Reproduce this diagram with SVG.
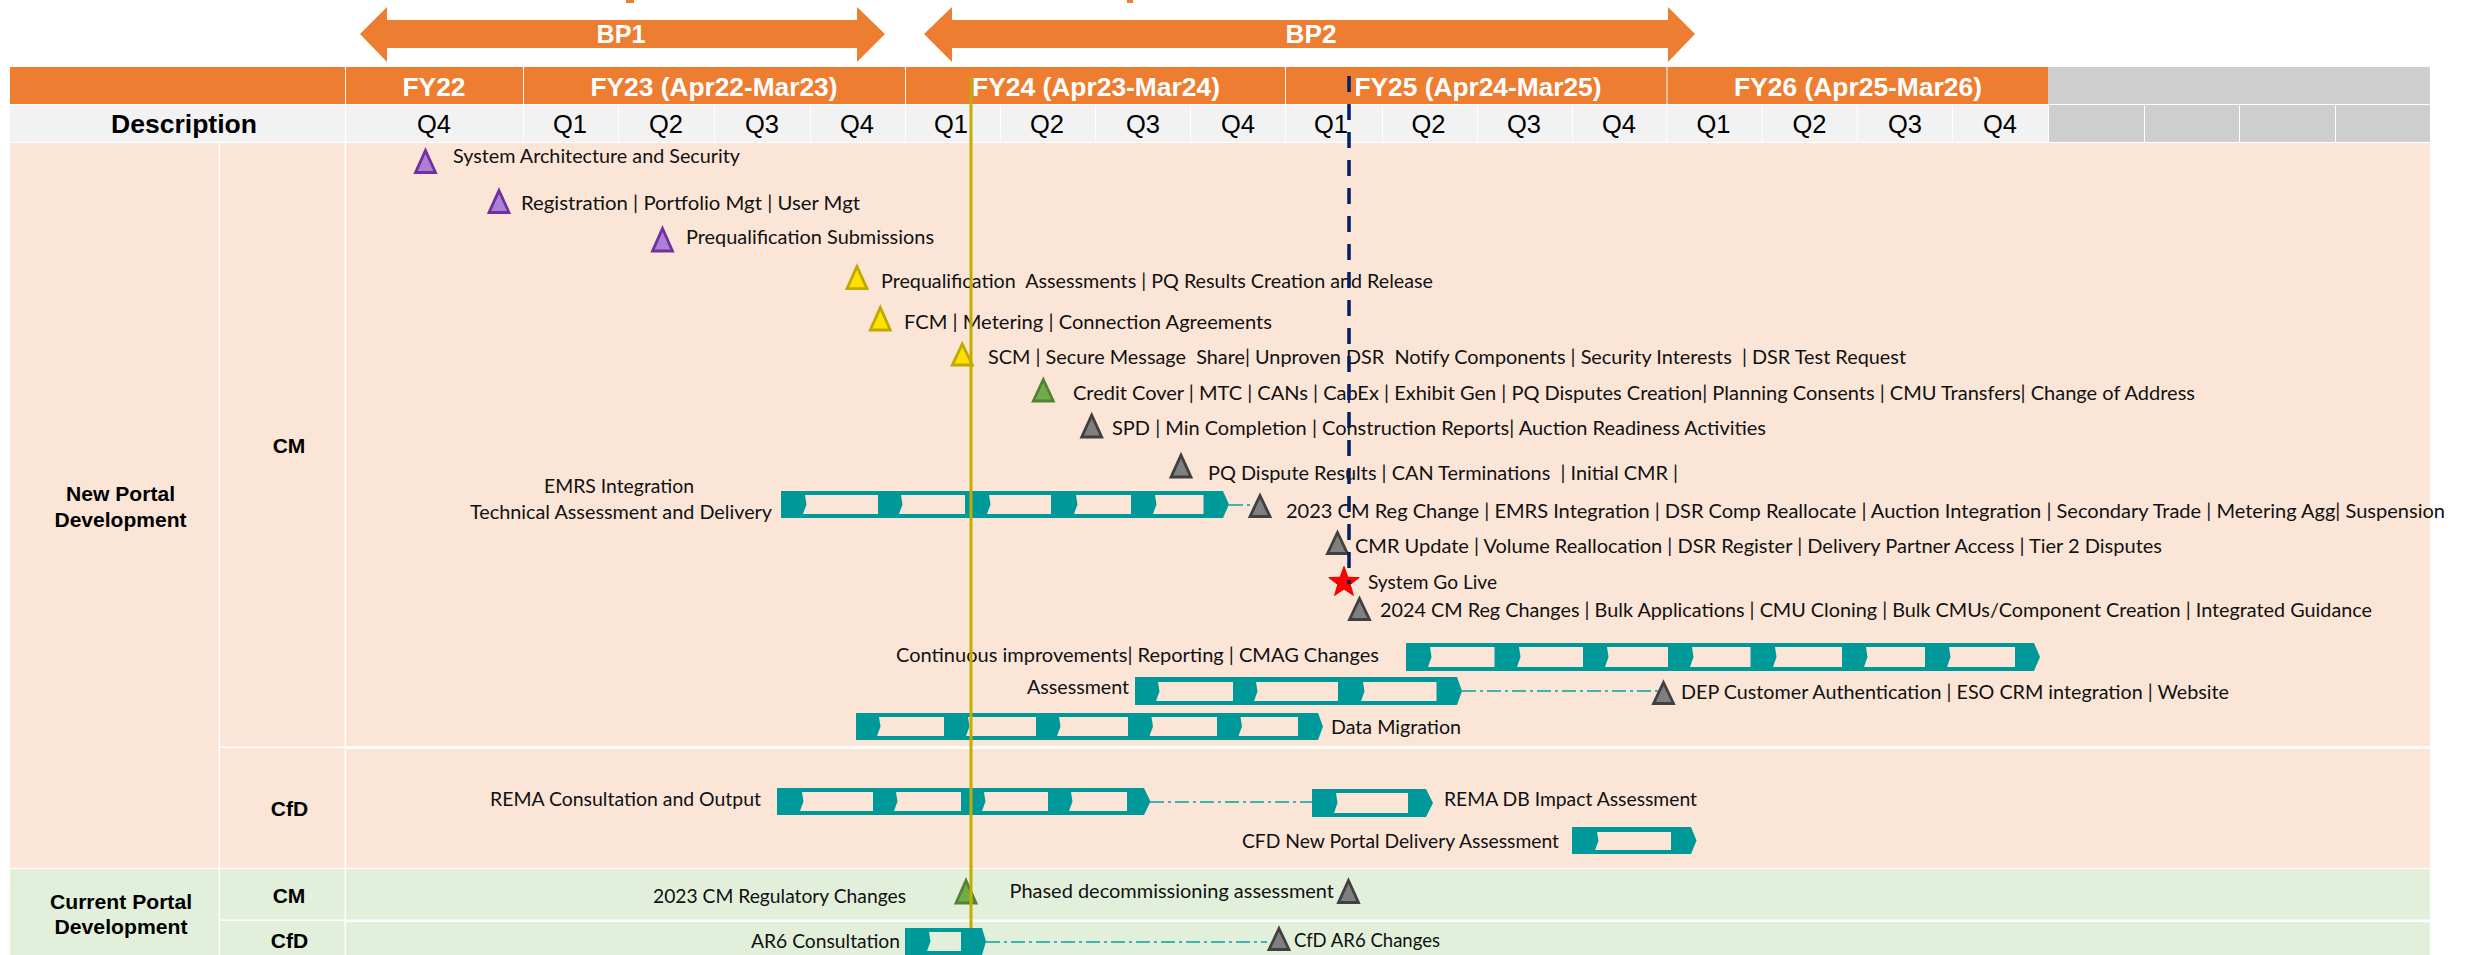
<svg xmlns="http://www.w3.org/2000/svg" width="2466" height="955" viewBox="0 0 2466 955">
<style>
text{white-space:pre}
.h{font:bold 26px "Liberation Sans",Arial,sans-serif;fill:#fff;text-anchor:middle}
.bp{font:bold 25px "Liberation Sans",Arial,sans-serif;fill:#fff;text-anchor:middle}
.q{font:25.500px "Liberation Sans",Arial,sans-serif;fill:#000;text-anchor:middle}
.b{font:bold 21px "Liberation Sans",Arial,sans-serif;fill:#000;text-anchor:middle}
.l{font:19.500px Lato,"Liberation Sans",sans-serif;fill:#111}
.or{fill:#ED7D31}.hd{fill:#F2F2F2}.gy{fill:#CFCECE}.pe{fill:#FBE5D7}.gr{fill:#E2EFDA}
.bar{fill:#009999}.ip{fill:#FBE5D7}.ig{fill:#E2EFDA}
.t{stroke-width:2.800;stroke-linejoin:miter}
.pu{fill:#AE7FD6;stroke:#7030A0}.ye{fill:#FFE100;stroke:#BFA900}.ge{fill:#70AD47;stroke:#548235}.gk{fill:#7F7F7F;stroke:#404040}
.c{stroke:#3CB5AE;stroke-width:2;stroke-dasharray:14 4 3 4;fill:none}
</style>
<rect width="2466" height="955" fill="#fff"/>
<g id="header">
<rect class="or" x="626" y="0" width="8" height="3"/><rect class="or" x="1127" y="0" width="6" height="3"/>
<rect class="or" x="10" y="67" width="335" height="37"/>
<rect class="or" x="346" y="67" width="177" height="37"/>
<rect class="or" x="524" y="67" width="381" height="37"/>
<rect class="or" x="906" y="67" width="379" height="37"/>
<rect class="or" x="1286" y="67" width="380.500" height="37"/>
<rect class="or" x="1667.500" y="67" width="380.500" height="37"/>
<rect class="gy" x="2048" y="67" width="382" height="37"/>
<rect class="hd" x="10" y="105" width="335" height="37"/>
<rect class="hd" x="346" y="105" width="177" height="37"/>
<path class="hd" d="M524 105h94v37h-94zM619 105h95v37h-95zM715 105h95v37h-95zM811 105h94v37h-94zM906 105h94v37h-94zM1001 105h94v37h-94zM1096 105h94v37h-94zM1191 105h94v37h-94zM1286 105h96v37h-96zM1383 105h94v37h-94zM1478 105h94v37h-94zM1573 105h93.500v37h-93.500zM1667.500 105h94v37h-94zM1762.500 105h94v37h-94zM1857.500 105h94.500v37h-94.500zM1953 105h95v37h-95z"/>
<path class="gy" d="M2049 105h95v37h-95zM2145 105h94v37h-94zM2240 105h95v37h-95zM2336 105h94v37h-94z"/>
<text class="h" x="434" y="96" textLength="63" lengthAdjust="spacingAndGlyphs">FY22</text>
<text class="h" x="714" y="96" textLength="247" lengthAdjust="spacingAndGlyphs">FY23 (Apr22-Mar23)</text>
<text class="h" x="1096" y="96" textLength="248" lengthAdjust="spacingAndGlyphs">FY24 (Apr23-Mar24)</text>
<text class="h" x="1478" y="96" textLength="247" lengthAdjust="spacingAndGlyphs">FY25 (Apr24-Mar25)</text>
<text class="h" x="1858" y="96" textLength="248" lengthAdjust="spacingAndGlyphs">FY26 (Apr25-Mar26)</text>
<text x="184" y="133" font-family="Liberation Sans, Arial, sans-serif" font-weight="bold" font-size="26" text-anchor="middle" textLength="146" lengthAdjust="spacingAndGlyphs">Description</text>
<g class="q">
<text x="434" y="133">Q4</text><text x="570" y="133">Q1</text><text x="666" y="133">Q2</text><text x="762" y="133">Q3</text><text x="857" y="133">Q4</text>
<text x="951" y="133">Q1</text><text x="1047" y="133">Q2</text><text x="1143" y="133">Q3</text><text x="1238" y="133">Q4</text>
<text x="1331" y="133">Q1</text><text x="1428.500" y="133">Q2</text><text x="1524" y="133">Q3</text><text x="1619" y="133">Q4</text>
<text x="1713.500" y="133">Q1</text><text x="1809.500" y="133">Q2</text><text x="1905" y="133">Q3</text><text x="2000" y="133">Q4</text>
</g>
</g>
<g id="bp1"><polygon class="or" points="360,34 387,7 387,20 857,20 857,7 885,34 857,62 857,48 387,48 387,62"/><text class="bp" x="621" y="43" textLength="49" lengthAdjust="spacingAndGlyphs">BP1</text></g>
<g id="bp2"><polygon class="or" points="924,34 952,7 952,20 1668,20 1668,7 1695,34 1668,62 1668,48 952,48 952,62"/><text class="bp" x="1311" y="43" textLength="51" lengthAdjust="spacingAndGlyphs">BP2</text></g>
<g id="body">
<rect class="pe" x="10" y="143" width="208.500" height="725"/>
<rect class="pe" x="220" y="143" width="124.500" height="603.500"/>
<rect class="pe" x="220" y="748" width="124.500" height="120"/>
<rect class="pe" x="346" y="143" width="2084" height="603"/>
<rect class="pe" x="346" y="749" width="2084" height="119"/>
<rect class="gr" x="10" y="869" width="208.500" height="86"/>
<rect class="gr" x="220" y="869" width="124.500" height="50.500"/>
<rect class="gr" x="220" y="921" width="124.500" height="34"/>
<rect class="gr" x="346" y="869" width="2084" height="50.500"/>
<rect class="gr" x="346" y="922" width="2084" height="33"/>
<text class="b" x="120.500" y="500.500" textLength="109" lengthAdjust="spacingAndGlyphs">New Portal</text>
<text class="b" x="120.500" y="526.500" textLength="132" lengthAdjust="spacingAndGlyphs">Development</text>
<text class="b" x="121" y="909" textLength="142" lengthAdjust="spacingAndGlyphs">Current Portal</text>
<text class="b" x="121" y="934" textLength="133" lengthAdjust="spacingAndGlyphs">Development</text>
<text class="b" x="289" y="453">CM</text><text class="b" x="289.500" y="816">CfD</text>
<text class="b" x="289" y="903">CM</text><text class="b" x="289.500" y="948">CfD</text>
</g>
<g id="connectors">
<path class="c" d="M1229 505H1250"/>
<path class="c" d="M1462 691H1660"/>
<path class="c" d="M1150 802H1312"/>
<path class="c" d="M986 942H1267"/>
</g>
<g id="bar-emrs"><path class="bar" d="M781 491H1223L1229 504.500 1223 518H781Z"/>
<path class="ip" d="M805 495H878V514H803L806.500 504.500ZM901 495H965V514H899L902.500 504.500ZM989 495H1051V514H987L990.500 504.500ZM1076 495H1131V514H1074L1077.500 504.500ZM1155 495H1203.500V514H1153L1156.500 504.500Z"/>
<text class="l" x="544" y="493" textLength="150" lengthAdjust="spacingAndGlyphs">EMRS Integration</text>
<text class="l" x="470" y="519" textLength="302" lengthAdjust="spacingAndGlyphs">Technical Assessment and Delivery</text></g>
<g id="bar-continuous"><path class="bar" d="M1406 643H2034L2040 657 2034 671H1406Z"/>
<path class="ip" d="M1430 647H1494.500V667H1428L1431.500 657ZM1519 647H1583V667H1517L1520.500 657ZM1607 647H1668V667H1605L1608.500 657ZM1692 647H1750.500V667H1690L1693.500 657ZM1775 647H1842V667H1773L1776.500 657ZM1866 647H1925V667H1864L1867.500 657ZM1949 647H2015V667H1947L1950.500 657Z"/>
<text class="l" x="896" y="661.500" textLength="483" lengthAdjust="spacingAndGlyphs">Continuous improvements| Reporting | CMAG Changes</text></g>
<g id="bar-assessment"><path class="bar" d="M1135 677H1457L1462 691 1457 705H1135Z"/>
<path class="ip" d="M1158 682H1233V701H1156L1159.500 691.500ZM1256 682H1338V701H1254L1257.500 691.500ZM1363 682H1436.500V701H1361L1364.500 691.500Z"/>
<text class="l" x="1027" y="693.500" textLength="102" lengthAdjust="spacingAndGlyphs">Assessment</text></g>
<g id="bar-data-migration"><path class="bar" d="M856 713H1318L1323 726.500 1318 740H856Z"/>
<path class="ip" d="M879 717H944V736H877L880.500 726.500ZM968 717H1036V736H966L969.500 726.500ZM1059 717H1128V736H1057L1060.500 726.500ZM1151.500 717H1217V736H1149.500L1153 726.500ZM1240.500 717H1298V736H1238.500L1242 726.500Z"/>
<text class="l" x="1331" y="734" textLength="130" lengthAdjust="spacingAndGlyphs">Data Migration</text></g>
<g id="bar-rema"><path class="bar" d="M777 788H1144L1150.500 801.500 1144 815H777Z"/>
<path class="ip" d="M802 792H873V811H800L803.500 801.500ZM896 792H961V811H894L897.500 801.500ZM984 792H1048V811H982L985.500 801.500ZM1071 792H1127V811H1069L1072.500 801.500Z"/>
<text class="l" x="490" y="806" textLength="271" lengthAdjust="spacingAndGlyphs">REMA Consultation and Output</text></g>
<g id="bar-rema-db"><path class="bar" d="M1312 789H1426L1433 803 1426 817H1312Z"/>
<path class="ip" d="M1336 793H1408V813H1334L1337.500 803Z"/>
<text class="l" x="1444" y="806" textLength="253" lengthAdjust="spacingAndGlyphs">REMA DB Impact Assessment</text></g>
<g id="bar-cfd"><path class="bar" d="M1572 827H1691L1696.500 840.500 1691 854H1572Z"/>
<path class="ip" d="M1597 832H1671V850H1595L1598.500 841Z"/>
<text class="l" x="1242" y="848" textLength="317" lengthAdjust="spacingAndGlyphs">CFD New Portal Delivery Assessment</text></g>
<g id="bar-ar6"><path class="bar" d="M905 928H982L986 941.500 982 955H905Z"/>
<path class="ig" d="M929 932H961V951H927L930.500 941.500Z"/>
<text class="l" x="751" y="947.500" textLength="149" lengthAdjust="spacingAndGlyphs">AR6 Consultation</text></g>
<g id="m1"><polygon class="t pu" points="425.500,150.500 435.500,172.500 415.500,172.500"/><text class="l" x="453" y="163" textLength="287" lengthAdjust="spacingAndGlyphs">System Architecture and Security</text></g>
<g id="m2"><polygon class="t pu" points="499,190.500 509,212.500 489,212.500"/><text class="l" x="521" y="210" textLength="339" lengthAdjust="spacingAndGlyphs">Registration | Portfolio Mgt | User Mgt</text></g>
<g id="m3"><polygon class="t pu" points="662.500,228.500 672.500,251 652.500,251"/><text class="l" x="686" y="244" textLength="248" lengthAdjust="spacingAndGlyphs">Prequalification Submissions</text></g>
<g id="m4"><polygon class="t ye" points="857,266.500 867,288.600 847,288.600"/><text class="l" x="881" y="288" textLength="552" lengthAdjust="spacingAndGlyphs">Prequalification  Assessments | PQ Results Creation and Release</text></g>
<g id="m5"><polygon class="t ye" points="880.300,307.500 890.300,330 870.300,330"/><text class="l" x="904" y="329" textLength="368" lengthAdjust="spacingAndGlyphs">FCM | Metering | Connection Agreements</text></g>
<g id="m6"><polygon class="t ye" points="962.300,344 972.300,365 952.300,365"/><text class="l" x="988" y="364" textLength="918" lengthAdjust="spacingAndGlyphs">SCM | Secure Message  Share| Unproven DSR  Notify Components | Security Interests  | DSR Test Request</text></g>
<g id="m7"><polygon class="t ge" points="1043.300,379.500 1053.300,401 1033.300,401"/><text class="l" x="1073" y="400" textLength="1122" lengthAdjust="spacingAndGlyphs">Credit Cover | MTC | CANs | CapEx | Exhibit Gen | PQ Disputes Creation| Planning Consents | CMU Transfers| Change of Address</text></g>
<g id="m8"><polygon class="t gk" points="1091.700,415.200 1101.700,437 1081.700,437"/><text class="l" x="1112" y="434.500" textLength="654" lengthAdjust="spacingAndGlyphs">SPD | Min Completion | Construction Reports| Auction Readiness Activities</text></g>
<g id="m9"><polygon class="t gk" points="1181,455.200 1191,477 1171,477"/><text class="l" x="1208" y="480" textLength="470" lengthAdjust="spacingAndGlyphs">PQ Dispute Results | CAN Terminations  | Initial CMR |</text></g>
<g id="m10"><polygon class="t gk" points="1260,495.500 1270,516.500 1250,516.500"/><text class="l" x="1286" y="518" textLength="1159" lengthAdjust="spacingAndGlyphs">2023 CM Reg Change | EMRS Integration | DSR Comp Reallocate | Auction Integration | Secondary Trade | Metering Agg| Suspension</text></g>
<g id="m11"><polygon class="t gk" points="1337.500,532.500 1347.500,553.500 1327.500,553.500"/><text class="l" x="1355" y="553" textLength="807" lengthAdjust="spacingAndGlyphs">CMR Update | Volume Reallocation | DSR Register | Delivery Partner Access | Tier 2 Disputes</text></g>
<g id="go-live"><polygon fill="#FF0000" stroke="#E00000" points="1344,566.500 1347.800,577.200 1359.200,577.600 1350.200,584.500 1353.400,595.400 1344,589 1334.600,595.400 1337.800,584.500 1328.800,577.600 1340.200,577.200"/><text class="l" x="1368" y="589" textLength="129" lengthAdjust="spacingAndGlyphs">System Go Live</text></g>
<g id="m12"><polygon class="t gk" points="1359.500,598.500 1369.500,619.500 1349.500,619.500"/><text class="l" x="1380" y="617" textLength="992" lengthAdjust="spacingAndGlyphs">2024 CM Reg Changes | Bulk Applications | CMU Cloning | Bulk CMUs/Component Creation | Integrated Guidance</text></g>
<g id="m13"><polygon class="t gk" points="1663.500,682.500 1673.500,703.500 1653.500,703.500"/><text class="l" x="1681" y="699" textLength="548" lengthAdjust="spacingAndGlyphs">DEP Customer Authentication | ESO CRM integration | Website</text></g>
<g id="m14"><polygon class="t ge" points="966,880.500 976,903 956,903"/><text class="l" x="653" y="902.500" textLength="253" lengthAdjust="spacingAndGlyphs">2023 CM Regulatory Changes</text></g>
<g id="m15"><polygon class="t gk" points="1348.500,880.500 1358.500,902.500 1338.500,902.500"/><text class="l" x="1009.500" y="898" textLength="324.500" lengthAdjust="spacingAndGlyphs">Phased decommissioning assessment</text></g>
<g id="m16"><polygon class="t gk" points="1279,928.500 1289,949.500 1269,949.500"/><text class="l" x="1294" y="947" textLength="146" lengthAdjust="spacingAndGlyphs">CfD AR6 Changes</text></g>
<g id="today-lines">
<path d="M971 77V928" stroke="#C4AC00" stroke-width="3" fill="none"/>
<path d="M1349 76V584" stroke="#002060" stroke-width="3.500" stroke-dasharray="16 12" fill="none"/>
</g>
</svg>
